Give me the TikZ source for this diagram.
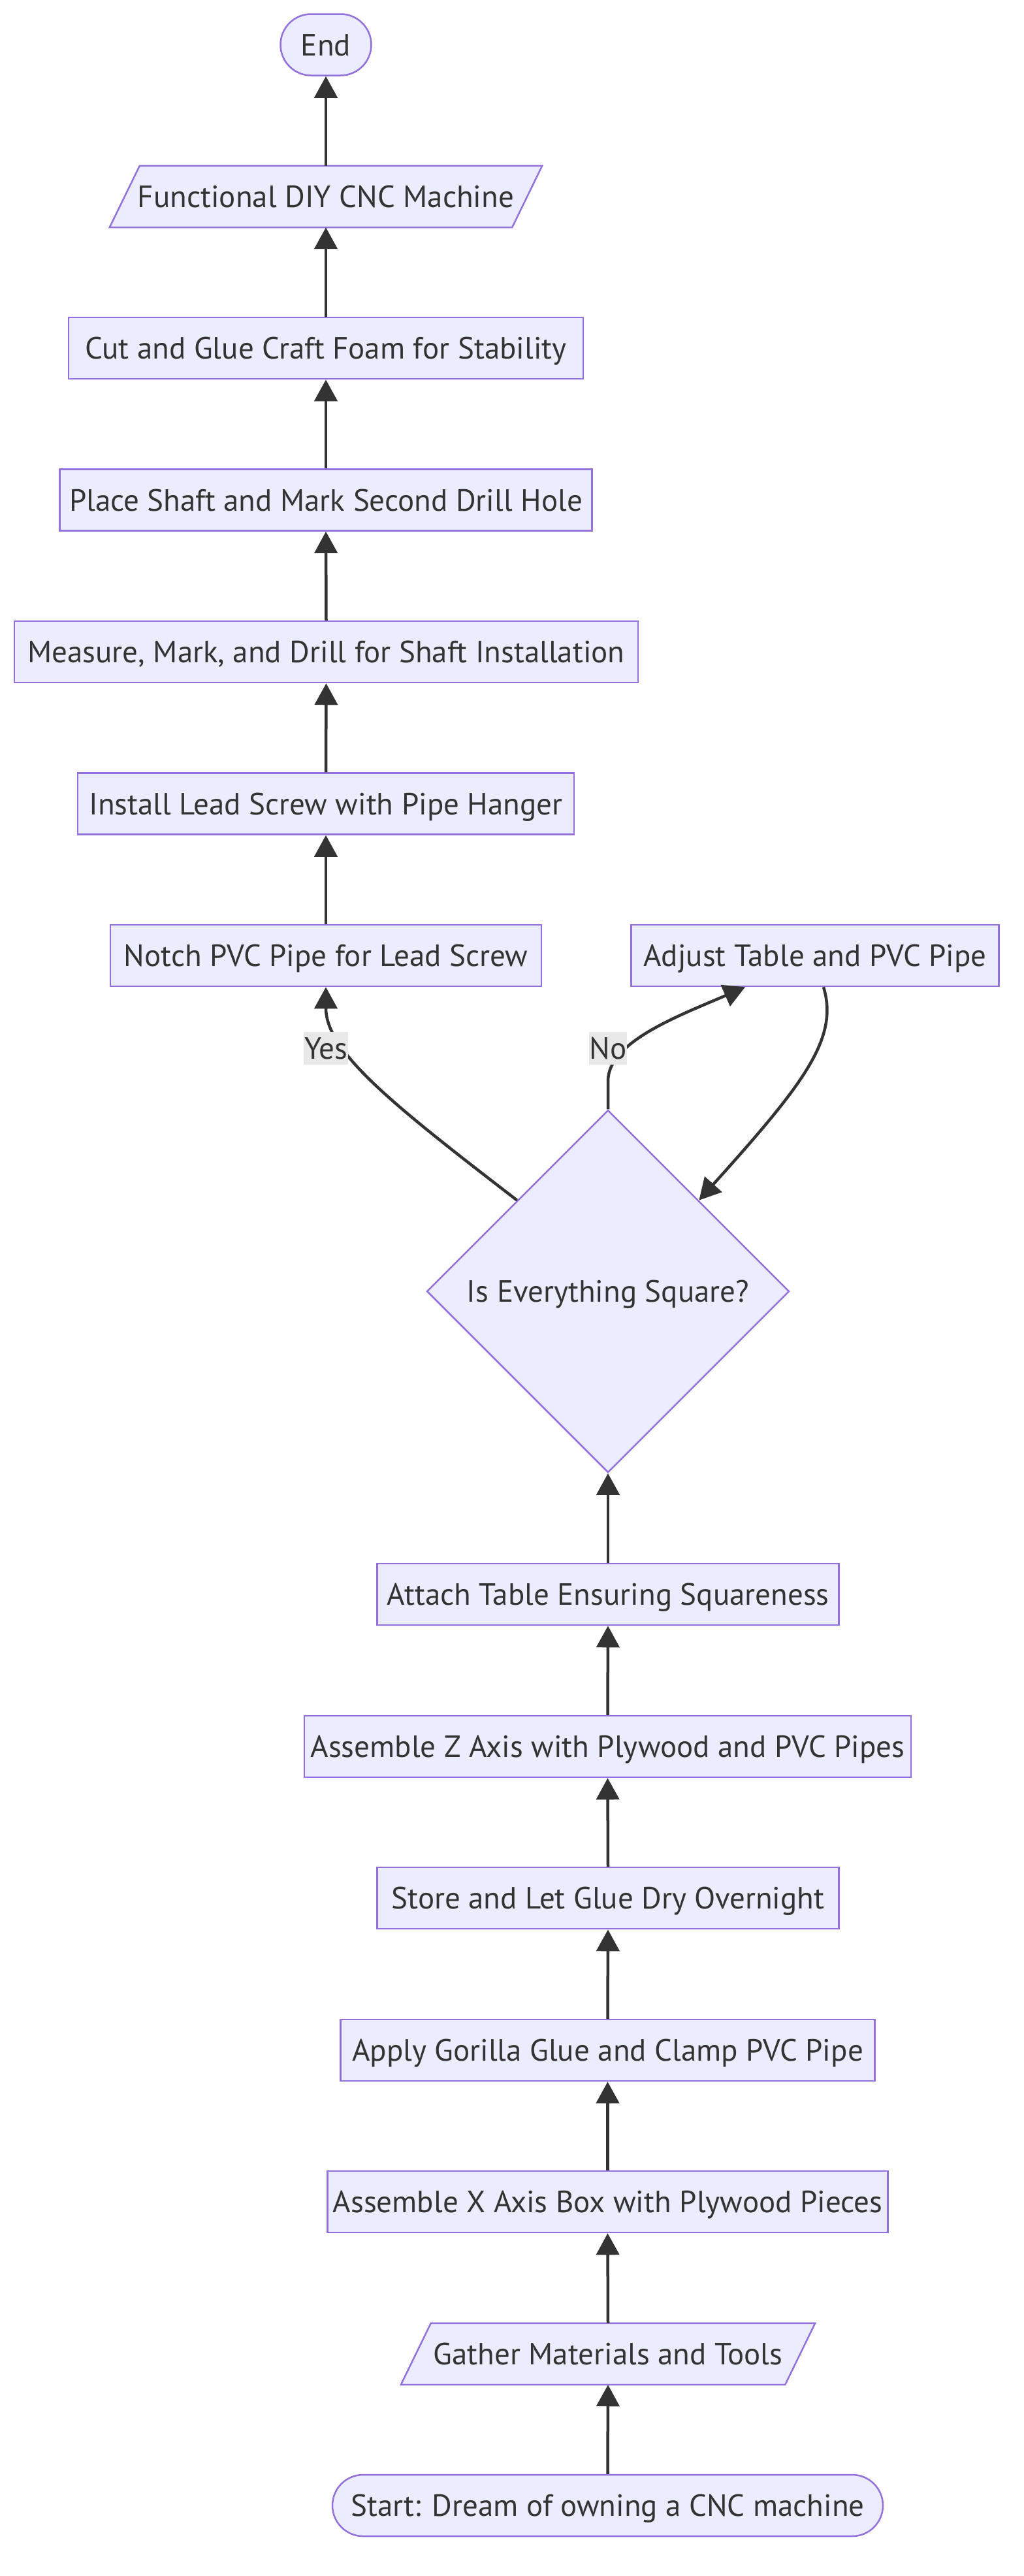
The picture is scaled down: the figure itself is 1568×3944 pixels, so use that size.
\documentclass[tikz,border=0pt]{standalone}
\usepackage{fontspec}
\newfontfamily\nodefont{PT Sans}
\usetikzlibrary{arrows.meta,shapes.geometric,calc,backgrounds}
\definecolor{nfill}{HTML}{ECECFF}
\definecolor{nborder}{HTML}{9370DB}
\definecolor{ntext}{HTML}{333333}
\definecolor{eline}{HTML}{333333}
\definecolor{lblbg}{HTML}{E8E8E8}
\tikzset{
  basefont/.style={font=\nodefont\fontsize{47}{56}\selectfont, text=ntext},
  procbox/.style={basefont, rectangle, draw=nborder, fill=nfill, line width=2.5pt,
    minimum height=94pt, inner xsep=0pt, inner ysep=0pt, text height=33pt, text depth=0pt},
  stadium/.style={procbox, rounded corners=47pt},
  iobox/.style={basefont, rectangle, minimum height=94pt, inner xsep=0pt, inner ysep=0pt,
    text height=33pt, text depth=0pt},
  paraline/.style={draw=nborder, fill=nfill, line width=2.5pt},
  decision/.style={basefont, diamond, draw=nborder, fill=nfill, line width=2.5pt,
    minimum width=555pt, minimum height=555pt, inner sep=0pt, text height=33pt, text depth=0pt},
  flow/.style={draw=eline, line width=4.5pt, -{Triangle[length=33pt,width=35pt]}},
  elabel/.style={basefont, fill=lblbg, inner xsep=1pt, inner ysep=0pt, minimum height=50pt,
    text height=33pt, text depth=0pt}
}
\begin{document}
\begin{tikzpicture}[x=1pt,y=-1pt]
\useasboundingbox (0,0) rectangle (1568,3944);
% left column
\node[stadium, minimum width=139pt] (endn) at (499,68.5) {End};
\node[iobox, minimum width=616pt] (func) at (499,301) {Functional DIY CNC Machine};
\node[procbox, minimum width=788pt] (cut) at (499,533) {Cut and Glue Craft Foam for Stability};
\node[procbox, minimum width=815pt] (place) at (499,765.6) {Place Shaft and Mark Second Drill Hole};
\node[procbox, minimum width=955pt] (measure) at (499.5,998) {Measure, Mark, and Drill for Shaft Installation};
\node[procbox, minimum width=760pt] (install) at (499,1230.5) {Install Lead Screw with Pipe Hanger};
\node[procbox, minimum width=660pt] (notch) at (499,1463) {Notch PVC Pipe for Lead Screw};
\node[procbox, minimum width=563pt] (adjust) at (1248,1463) {Adjust Table and PVC Pipe};
% decision
\node[decision] (dq) at (931,1977) {Is Everything Square?};
% right column
\node[procbox, minimum width=707pt] (attach) at (931,2441) {Attach Table Ensuring Squareness};
\node[procbox, minimum width=929pt] (asmz) at (930.5,2674) {Assemble Z Axis with Plywood and PVC Pipes};
\node[procbox, minimum width=707pt] (store) at (931,2906) {Store and Let Glue Dry Overnight};
\node[procbox, minimum width=818pt] (apply) at (930.5,3139) {Apply Gorilla Glue and Clamp PVC Pipe};
\node[procbox, minimum width=858pt] (asmx) at (930.5,3371) {Assemble X Axis Box with Plywood Pieces};
\node[iobox, minimum width=588pt] (gather) at (931,3604) {Gather Materials and Tools};
\node[stadium, minimum width=843pt] (start) at (930.5,3836) {Start: Dream of owning a CNC machine};
% parallelograms behind text
\begin{pgfonlayer}{background}
\path[paraline] ([xshift=23pt]func.north west) -- ([xshift=23pt]func.north east)
  -- ([xshift=-23pt]func.south east) -- ([xshift=-23pt]func.south west) -- cycle;
\path[paraline] ([xshift=23pt]gather.north west) -- ([xshift=23pt]gather.north east)
  -- ([xshift=-23pt]gather.south east) -- ([xshift=-23pt]gather.south west) -- cycle;
\end{pgfonlayer}
% straight connectors
\draw[flow] (start.north) -- (gather.south);
\draw[flow] (gather.north) -- (asmx.south);
\draw[flow] (asmx.north) -- (apply.south);
\draw[flow] (apply.north) -- (store.south);
\draw[flow] (store.north) -- (asmz.south);
\draw[flow] (asmz.north) -- (attach.south);
\draw[flow] (attach.north) -- (dq.south);
\draw[flow] (notch.north) -- (install.south);
\draw[flow] (install.north) -- (measure.south);
\draw[flow] (measure.north) -- (place.south);
\draw[flow] (place.north) -- (cut.south);
\draw[flow] (cut.north) -- (func.south);
\draw[flow] (func.north) -- (endn.south);
% decision connectors
\draw[flow] (dq.north west) .. controls (600,1690) and (499,1610) .. (notch.south);
\draw[flow] (dq.north) -- (931,1655) .. controls (931,1595) and (1040,1555) .. ($(adjust.south)+(-107,0)$);
\draw[flow] ($(adjust.south)+(13,0)$) .. controls (1285,1590) and (1230,1660) .. (dq.north east);
% edge labels
\node[elabel] (yesl) at (499,1605) {Yes};
\node[elabel] (nol) at (931,1605) {No};
\end{tikzpicture}
\end{document}
